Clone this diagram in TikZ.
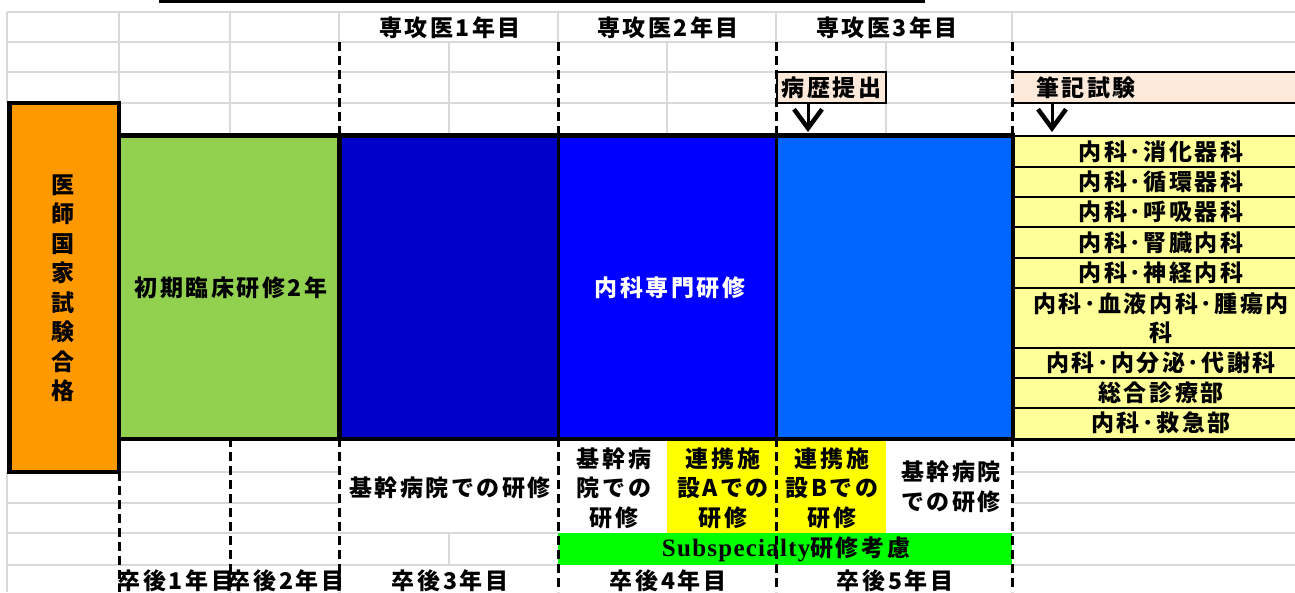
\documentclass[tikz,border=0pt]{standalone}
\usepackage{fontspec}
\newfontfamily\jp{Noto Sans CJK JP}[LetterSpace=11]
\newfontfamily\lat{Liberation Serif}[LetterSpace=5]
\usetikzlibrary{arrows.meta}
\definecolor{orangeC}{HTML}{FF9900}
\definecolor{greenC}{HTML}{92D050}
\definecolor{dblue}{HTML}{0000C8}
\definecolor{mblue}{HTML}{0000FF}
\definecolor{lblue}{HTML}{0066FF}
\definecolor{lyellow}{HTML}{FFFF99}
\definecolor{yellowC}{HTML}{FFFF00}
\definecolor{lime}{HTML}{00FF00}
\definecolor{peach}{HTML}{FDE9D9}
\definecolor{gridgray}{HTML}{D9D9D9}
\tikzset{
  jt/.style={font=\jp\bfseries\fontsize{23}{29.5}\selectfont, inner sep=0pt, align=center},
  gridline/.style={draw=gridgray, line width=1.2pt},
  dashline/.style={draw=black, line width=3pt, dash pattern=on 9pt off 5pt},
  cellbox/.style={anchor=north west, inner sep=0pt, outer sep=0pt},
  arr/.style={draw=black, line width=3pt, -{Straight Barb[length=19pt,width=28pt,line width=4.5pt]}},
  listline/.style={draw=black, line width=1.5pt},
}
\begin{document}
\begin{tikzpicture}[x=1pt,y=-1pt]
\fill[white] (0,0) rectangle (1295,592);
\useasboundingbox (0,0) rectangle (1295,592);
% grid
\draw[gridline] (7,12)--(1295,12) (7,42)--(1295,42) (7,72)--(1295,72) (7,103)--(1295,103);
\draw[gridline] (7,472)--(339,472) (1012,472)--(1295,472);
\draw[gridline] (7,503)--(339,503) (1012,503)--(1295,503);
\draw[gridline] (7,533)--(558,533) (1012,533)--(1295,533);
\draw[gridline] (7,565)--(558,565) (1012,565)--(1295,565);
\draw[gridline] (7,12)--(7,103) (7,472)--(7,592) (119,12)--(119,103) (230,12)--(230,136)
  (339,12)--(339,42) (449,42)--(449,136) (449,533)--(449,565) (558,12)--(558,42)
  (667,42)--(667,136) (776,12)--(776,42) (886,42)--(886,136) (1012,12)--(1012,42);
% fills below block
\node[cellbox, fill=yellowC, minimum width=109pt, minimum height=95pt] (ycA) at (667,438) {};
\node[cellbox, fill=yellowC, minimum width=110pt, minimum height=95pt] (ycB) at (776,438) {};
\node[cellbox, fill=lime, minimum width=454pt, minimum height=32pt] (subbar) at (558,533) {};
% block
\node[cellbox, fill=greenC, minimum width=220pt, minimum height=303pt] (initial) at (119,136) {};
\node[cellbox, fill=dblue, minimum width=219pt, minimum height=303pt] (yr1) at (339,136) {};
\node[cellbox, fill=mblue, minimum width=218pt, minimum height=303pt] (yr2) at (558,136) {};
\node[cellbox, fill=lblue, minimum width=237pt, minimum height=303pt] (yr3) at (776,136) {};
\node[cellbox, fill=lyellow, minimum width=282pt, minimum height=303pt] (list) at (1013,136) {};
% peach
\node[cellbox, fill=peach, minimum width=282pt, minimum height=31pt] (hikkiBox) at (1013,72) {};
\draw[listline] (1013,72)--(1295,72) (1013,103)--(1295,103);
% dashed
\draw[dashline] (339,42)--(339,136) (558,42)--(558,136) (776,42)--(776,136) (1012,42)--(1012,136);
\draw[dashline] (119,472)--(119,592) (230,438)--(230,592) (339,438)--(339,592) (558,438)--(558,592)
  (776,438)--(776,592) (1012,438)--(1012,592);
% borders
\draw[line width=4.5pt] (119,135.5) rectangle (1013,439);
\draw[line width=5pt] (339,136) -- (339,439);
\draw[line width=3pt] (558,136) -- (558,439) (776,136) -- (776,439);
\draw[listline] (1013,136)--(1295,136) (1013,167)--(1295,167) (1013,197)--(1295,197)
  (1013,227)--(1295,227) (1013,258)--(1295,258) (1013,288)--(1295,288) (1013,348)--(1295,348)
  (1013,378)--(1295,378) (1013,408)--(1295,408);
\draw[line width=3pt] (1013,439)--(1295,439);
% orange
\node[cellbox, fill=orangeC, draw=black, line width=4.5pt, minimum width=109.5pt, minimum height=369pt] (exam) at (9.5,103) {};
\node[jt] (examTxt) at (63,288) {医\\師\\国\\家\\試\\験\\合\\格};
% byoreki box
\node[cellbox, jt, fill=peach, draw=black, line width=1.2pt, minimum width=109pt, minimum height=31pt] (byoreki) at (777,72) {病歴提出};
\node[jt, anchor=west] (hikki) at (1036,88) {筆記試験};
\coordinate (byorekiArr) at (808,132);
\draw[arr] (byoreki.south -| byorekiArr) -- (byorekiArr);
\coordinate (hikkiTop) at (1052,103);
\coordinate (hikkiArr) at (1052,132);
\draw[arr] (hikkiTop) -- (hikkiArr);
% headers
\node[jt] (h1) at (450,28) {専攻医1年目};
\node[jt] (h2) at (668,28) {専攻医2年目};
\node[jt] (h3) at (887,28) {専攻医3年目};
% block texts
\node[jt] (initTxt) at (231,288) {初期臨床研修2年};
\node[jt, text=white] (naikaTxt) at (670,288) {内科専門研修};
% list
\node[jt] (l1) at (1161,152) {内科･消化器科};
\node[jt] (l2) at (1161,182) {内科･循環器科};
\node[jt] (l3) at (1161,212) {内科･呼吸器科};
\node[jt] (l4) at (1161,243) {内科･腎臓内科};
\node[jt] (l5) at (1161,273) {内科･神経内科};
\node[jt] (l6) at (1161,318) {内科･血液内科･腫瘍内\\科};
\node[jt] (l7) at (1161,363) {内科･内分泌･代謝科};
\node[jt] (l8) at (1161,393) {総合診療部};
\node[jt] (l9) at (1161,423) {内科･救急部};
% below texts
\node[jt] (b1) at (450,488) {基幹病院での研修};
\node[jt] (b2) at (614,488) {基幹病\\院での\\研修};
\node[jt] (b3) at (723,488) {連携施\\設Aでの\\研修};
\node[jt] (b4) at (832,488) {連携施\\設Bでの\\研修};
\node[jt] (b5) at (951,487) {基幹病院\\での研修};
\node[inner sep=0pt] (subTxt) at (786,549) {{\lat\bfseries\fontsize{25}{28}\selectfont Subspecialty}{\jp\bfseries\fontsize{23}{28}\selectfont 研修考慮}};
% bottom row
\node[jt] (g1) at (176,581) {卒後1年目};
\node[jt] (g2) at (286,581) {卒後2年目};
\node[jt] (g3) at (450,581) {卒後3年目};
\node[jt] (g4) at (668,581) {卒後4年目};
\node[jt] (g5) at (895,581) {卒後5年目};
% top line
\draw[line width=3pt] (159,1.5) -- (925,1.5);
\end{tikzpicture}
\end{document}
